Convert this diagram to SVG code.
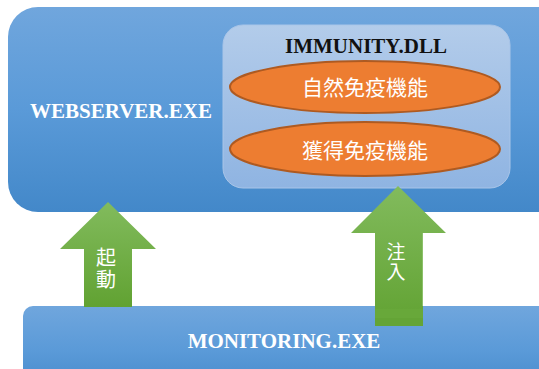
<svg xmlns="http://www.w3.org/2000/svg" width="539" height="369" viewBox="0 0 539 369">
  <defs>
    <linearGradient id="procFill" x1="0" y1="0" x2="0" y2="1">
      <stop offset="0" stop-color="#70a6dd"/>
      <stop offset="0.5" stop-color="#5a9ad8"/>
      <stop offset="1" stop-color="#4388c9"/>
    </linearGradient>
    <linearGradient id="dllFill" x1="0" y1="0" x2="0" y2="1">
      <stop offset="0" stop-color="#b3ccea"/>
      <stop offset="1" stop-color="#8fb4e2"/>
    </linearGradient>
    <linearGradient id="arrowFill" x1="0" y1="0" x2="0" y2="1">
      <stop offset="0" stop-color="#82bb5d"/>
      <stop offset="1" stop-color="#61a232"/>
    </linearGradient>
    <style>
      .title { font-family: "Liberation Serif", "Times New Roman", serif; font-weight: bold; font-size: 21px; text-anchor: middle; }
      .white { fill: #ffffff; }
      .dark { fill: #111111; }
      .func { fill: #ed7d31; stroke: #ae5a21; stroke-width: 2; }
      .cjk { font-family: "Noto Sans CJK TC", "Noto Sans CJK JP", sans-serif; fill: #ffffff; text-anchor: middle; }
      .vert { writing-mode: vertical-rl; text-orientation: upright; }
    </style>
  </defs>

  <!-- host process -->
  <g id="webserver">
    <rect x="8" y="7" width="560" height="205" rx="30" fill="url(#procFill)"/>
    <text class="title white" x="121" y="118">WEBSERVER.EXE</text>
  </g>

  <!-- injected library with its two functions -->
  <g id="immunity-dll">
    <rect x="223" y="25" width="287" height="163" rx="20" fill="url(#dllFill)" stroke="#a9c5e8" stroke-width="1"/>
    <text class="title dark" x="366" y="53">IMMUNITY.DLL</text>
  </g>
  <g id="innate">
    <ellipse class="func" cx="365" cy="87" rx="135" ry="26"/>
    <text class="cjk" x="365" y="95" font-size="21">自然免疫機能</text>
  </g>
  <g id="acquired">
    <ellipse class="func" cx="365" cy="149" rx="135" ry="27"/>
    <text class="cjk" x="365" y="158" font-size="21">獲得免疫機能</text>
  </g>

  <!-- watchdog process -->
  <g id="monitoring">
    <rect x="23" y="306" width="540" height="90" rx="10" fill="url(#procFill)"/>
    <text class="title white" x="284" y="348">MONITORING.EXE</text>
  </g>

  <!-- connectors -->
  <g id="connectors">
    <g id="launch">
      <polygon points="108,202 156,249 132,249 132,307 84,307 84,249 60,249" fill="url(#arrowFill)"/>
      <text class="cjk vert" x="106" y="269" font-size="20" letter-spacing="2">起動</text>
    </g>
    <g id="inject">
      <polygon points="398,186 446,233 423,233 423,326 375,326 375,233 351,233" fill="url(#arrowFill)"/>
      <line x1="422.5" y1="233" x2="422.5" y2="306" stroke="#8cc06a" stroke-width="1"/>
      <rect x="375" y="309" width="48" height="9" fill="#68a83a"/>
      <rect x="375" y="318" width="48" height="8" fill="#64a436"/>
      <text class="cjk vert" x="396" y="262" font-size="19" letter-spacing="1">注入</text>
    </g>
  </g>
</svg>
